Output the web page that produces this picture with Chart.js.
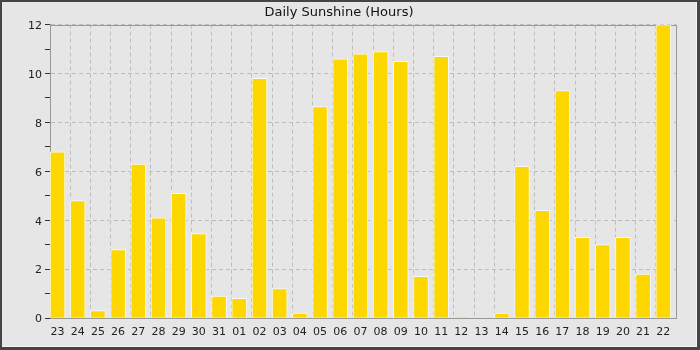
<!DOCTYPE html>
<html>
<head>
<meta charset="utf-8">
<script src="https://cdn.jsdelivr.net/npm/chart.js@4"></script>
<style>
  html, body { margin: 0; padding: 0; background: #e6e6e6; }
  #frame {
    position: absolute; left: 0; top: 0;
    width: 700px; height: 350px; box-sizing: border-box;
    border-style: solid; border-color: #454545;
    border-width: 2px 3px 3px 2px;
    background: #e6e6e6;
    box-shadow: inset -1px -1px 0 #f6f6f6;
  }
  canvas { display: block; }
</style>
</head>
<body>
<div id="frame"><canvas id="chart" width="695" height="345"></canvas></div>
<script>
const DAYS = ['23', '24', '25', '26', '27', '28', '29', '30', '31', '01', '02', '03', '04', '05', '06', '07',
  '08', '09', '10', '11', '12', '13', '14', '15', '16', '17', '18', '19', '20', '21', '22'];
const SUNSHINE = [6.8, 4.8, 0.3, 2.8, 6.3, 4.1, 5.1, 3.45, 0.9, 0.8, 9.8, 1.2, 0.2, 8.65, 10.6, 10.8,
  10.9, 10.5, 1.7, 10.7, 0.05, 0, 0.2, 6.2, 4.4, 9.3, 3.3, 3.0, 3.3, 1.8, 12];
const Y_MIN = 0;
const Y_MAX = 12;

Chart.defaults.font.family = "'DejaVu Sans', sans-serif";
Chart.defaults.font.size = 11;
Chart.defaults.color = '#222';

// solid box round the plot area (top and right edges)
const plotFrame = {
  id: 'plotFrame',
  beforeDatasetsDraw(chart) {
    const { ctx, chartArea: a } = chart;
    ctx.save();
    ctx.strokeStyle = '#999';
    ctx.lineWidth = 1;
    ctx.strokeRect(Math.round(a.left) + 0.5, Math.round(a.top) + 0.5,
      Math.round(a.right - a.left), Math.round(a.bottom - a.top));
    ctx.restore();
  },
};

new Chart(document.getElementById('chart'), {
  type: 'bar',
  data: {
    labels: DAYS,
    datasets: [
      {
        label: 'Sunshine',
        xAxisID: 'xb',
        data: SUNSHINE.map((v, i) => ({ x: i, y: v })),
        backgroundColor: '#FFD700',
        borderColor: '#f4f8ff',
        borderWidth: 1,
        barThickness: 15,
      },
    ],
  },
  options: {
    responsive: false,
    animation: false,
    layout: { padding: { left: 0, right: 21, top: 0, bottom: 0 } },
    plugins: {
      legend: { display: false },
      tooltip: { enabled: false },
      title: {
        display: true,
        text: 'Daily Sunshine (Hours)',
        color: '#111',
        font: { size: 13, weight: 'normal' },
        padding: { top: 3, bottom: 4 },
      },
    },
    scales: {
      x: {
        type: 'category',
        offset: true,
        grid: { offset: true, color: '#bdbdbd', drawTicks: false },
        border: { color: '#999', dash: [4, 3] },
        ticks: { padding: 8, labelOffset: -2.6, color: '#222', maxRotation: 0, autoSkip: false },
        afterFit: (s) => { s.height = 29; },
      },
      xb: {
        type: 'linear',
        display: false,
        offset: false,
        grace: 0,
        min: -0.372,
        max: DAYS.length - 1 + 0.628,
      },
      y: {
        min: Y_MIN,
        max: Y_MAX,
        grid: {
          color: (c) => (c.tick && c.tick.value % 2 === 0 ? '#bdbdbd' : 'rgba(0,0,0,0)'),
          tickColor: '#333',
          tickLength: 5,
        },
        border: { color: '#999', dash: [4, 3] },
        ticks: {
          stepSize: 1,
          padding: 3,
          labelOffset: 1.5,
          color: '#222',
          callback: (v) => (v % 2 === 0 ? String(v) : ''),
        },
        afterFit: (s) => { s.width = 48; },
      },
    },
  },
  plugins: [plotFrame],
});
</script>
</body>
</html>
